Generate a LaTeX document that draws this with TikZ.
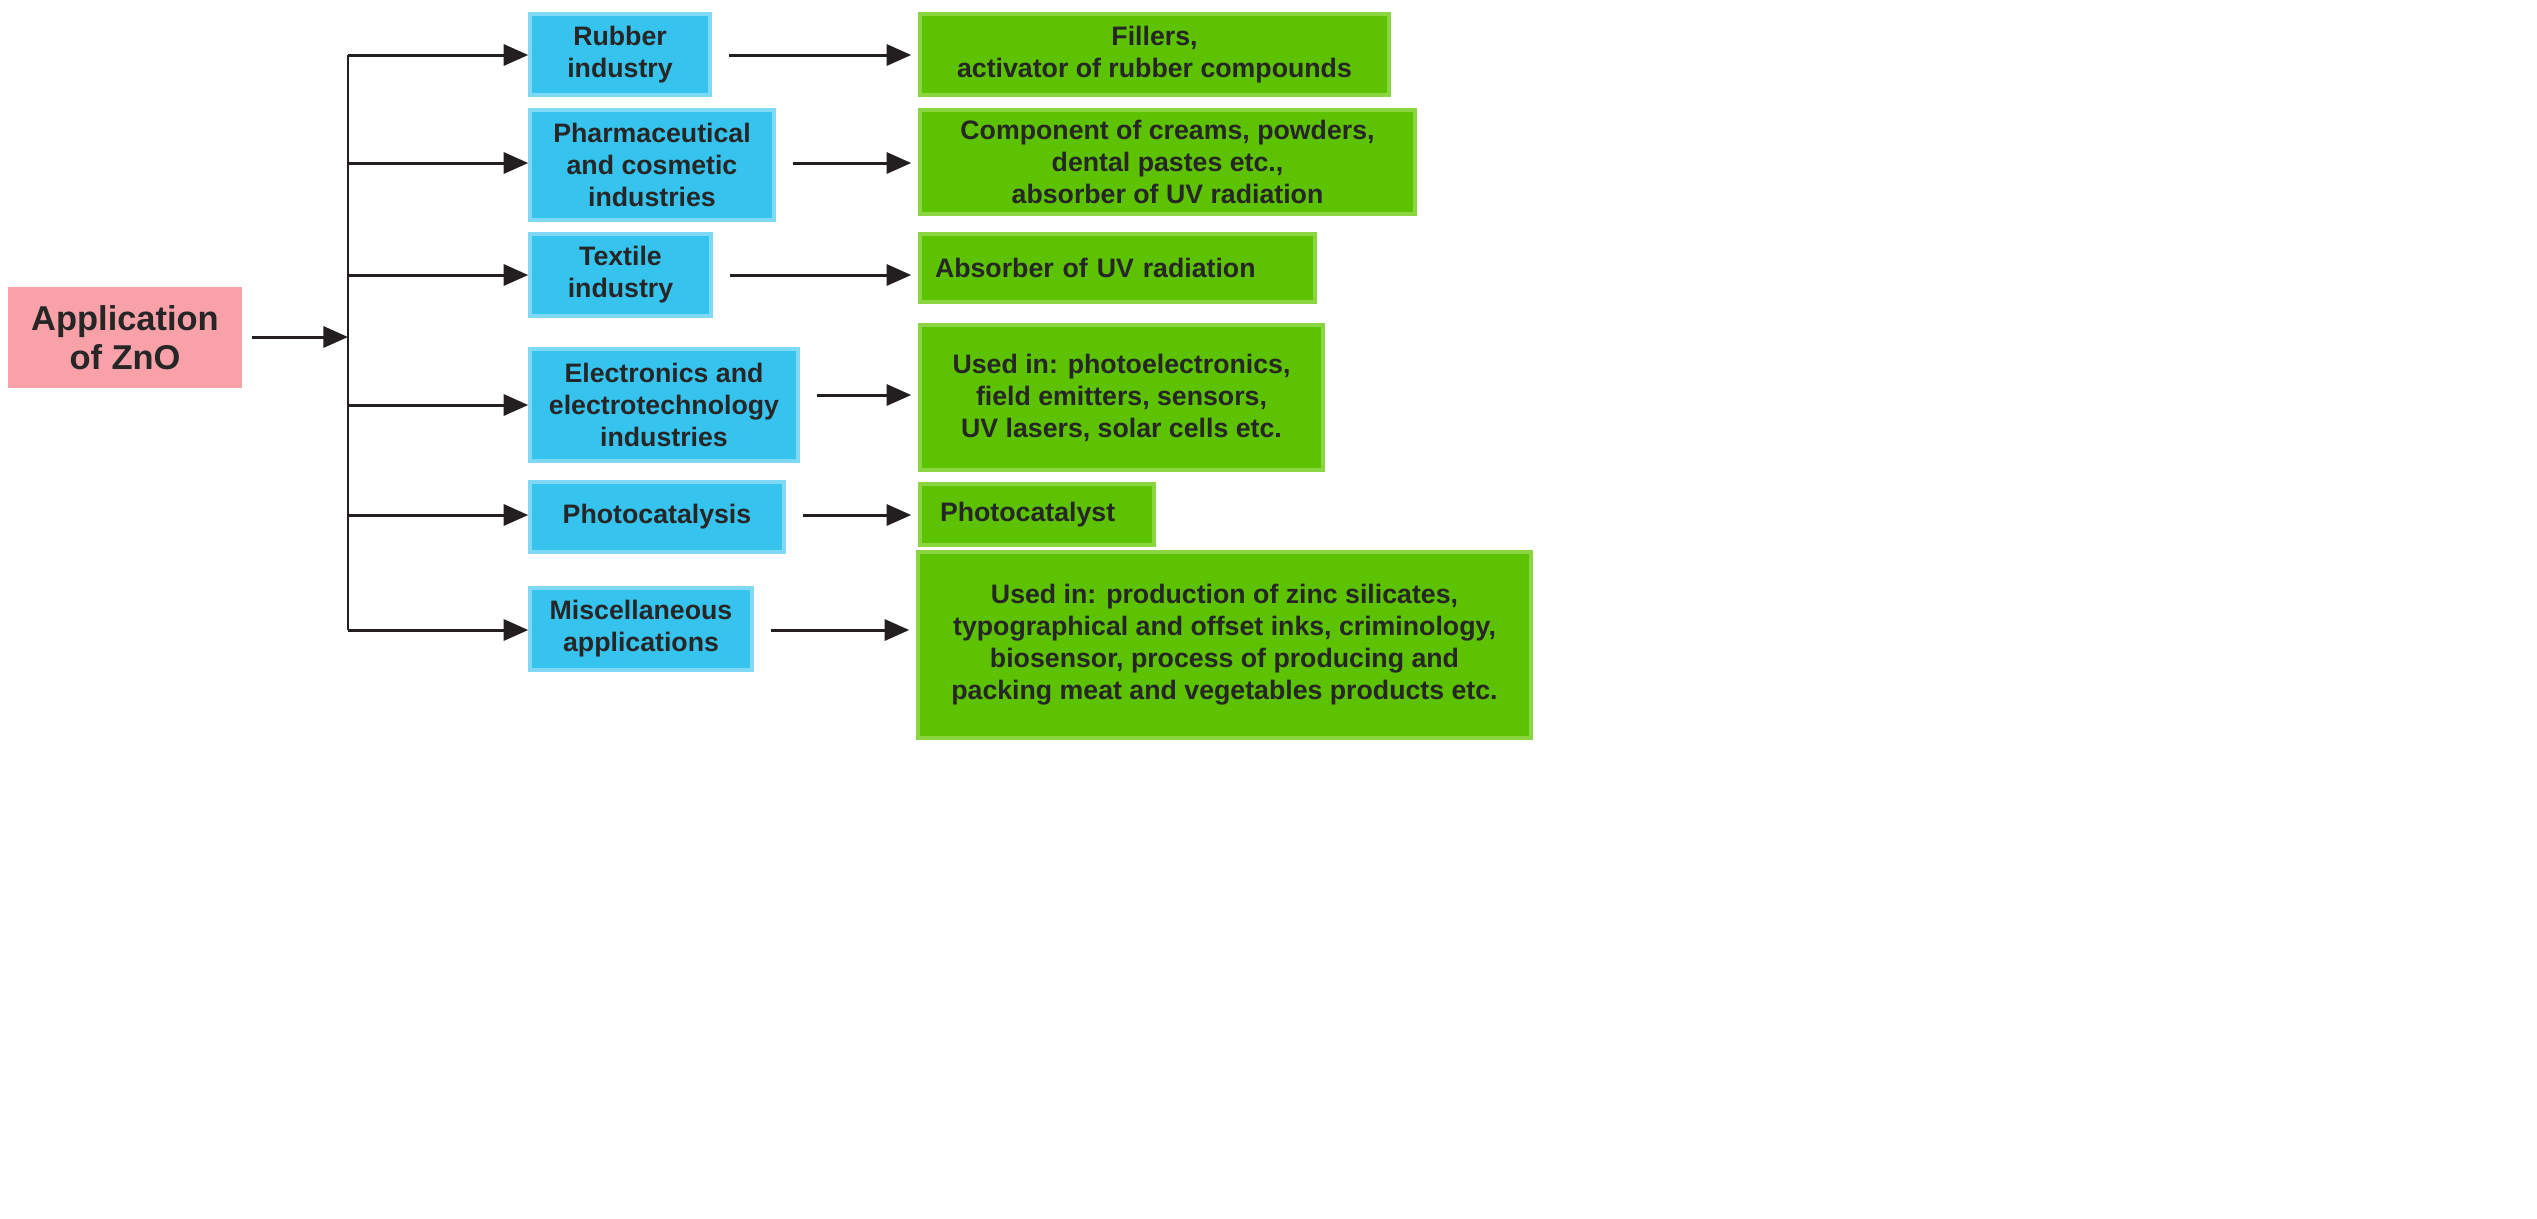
\documentclass[tikz,border=0pt]{standalone}
\usepackage{fontspec}
\setmainfont{Liberation Sans}
\usetikzlibrary{arrows.meta}
\definecolor{pk}{HTML}{F8A1A9}
\definecolor{bl}{HTML}{36C3EE}
\definecolor{blb}{HTML}{7FD9F5}
\definecolor{gr}{HTML}{5DC200}
\definecolor{grb}{HTML}{8AD640}
\definecolor{ar}{HTML}{231F20}
\newcommand\bx[7]{\node[#1,minimum width={(#4-#2)*0.2845pt},minimum height={(#5-#3)*0.2845pt}] (#6) at ({(#2+#4)/2},{(#3+#5)/2}) {#7};}
\begin{document}
\begin{tikzpicture}[x=0.2845pt,y=-0.2845pt,
 box/.style={inner sep=0pt,font=\bfseries\fontsize{7.6}{9.1}\selectfont,align=center,text=black!85},
 blue/.style={box,fill=bl,draw=blb,line width=1pt},
 green/.style={box,fill=gr,draw=grb,line width=1pt},
 arr/.style={draw=ar,line width=0.85pt,-{Triangle[length=7pt,width=6pt]}}]
\path[fill=white,use as bounding box] (0,0) rectangle (2537,1218);
\bx{box,fill=pk,font=\bfseries\fontsize{9.8}{11.2}\selectfont}{8}{287}{242}{388}{app}{Application\\of ZnO}
\bx{blue}{530}{14}{710}{95}{b1}{Rubber\\industry}
\bx{blue}{530}{110}{774}{220}{b2}{Pharmaceutical\\and cosmetic\\industries}
\bx{blue}{530}{234}{711}{316}{b3}{Textile\\industry}
\bx{blue}{530}{349}{798}{461}{b4}{Electronics and\\electrotechnology\\industries}
\bx{blue}{530}{482}{784}{552}{b5}{Photocatalysis}
\bx{blue}{530}{588}{752}{670}{b6}{Miscellaneous\\applications}
\bx{green}{920}{14}{1389}{95}{g1}{Fillers,\\activator of rubber compounds}
\bx{green}{920}{110}{1415}{214}{g2}{Component of creams, powders,\\dental pastes etc.,\\absorber of UV radiation}
\bx{green,align=left,text width={365*0.2845pt}}{920}{234}{1315}{302}{g3}{Absorber of UV radiation}
\bx{green}{920}{325}{1323}{470}{g4}{Used in: photoelectronics,\\field emitters, sensors,\\UV lasers, solar cells etc.}
\bx{green,align=left,text width={194*0.2845pt}}{920}{484}{1154}{545}{g5}{Photocatalyst}
\bx{green}{918}{552}{1531}{738}{g6}{Used in: production of zinc silicates,\\typographical and offset inks, criminology,\\biosensor, process of producing and\\packing meat and vegetables products etc.}
\coordinate (t0) at (348,55);
\coordinate (t1) at (348,630);
\draw[draw=ar,line width=0.85pt] (t0) -- (t1);
\coordinate (tm) at (348,337);
\coordinate (ts) at (252,337);
\draw[arr] (ts) -- (tm);
\foreach \b/\y in {b1/55,b2/163,b3/275,b4/405,b5/515,b6/630}{
 \coordinate (c\b) at (348,\y);
 \draw[arr] (c\b) -- (\b.west |- c\b) ;}
\foreach \b/\g/\y in {b1/g1/55,b2/g2/163,b3/g3/275,b4/g4/395,b5/g5/515,b6/g6/630}{
 \coordinate (d\b) at (0,\y);
 \draw[arr] ([xshift=5pt]\b.east |- d\b) -- ([xshift=-2pt]\g.west |- d\b);}
\end{tikzpicture}
\end{document}
